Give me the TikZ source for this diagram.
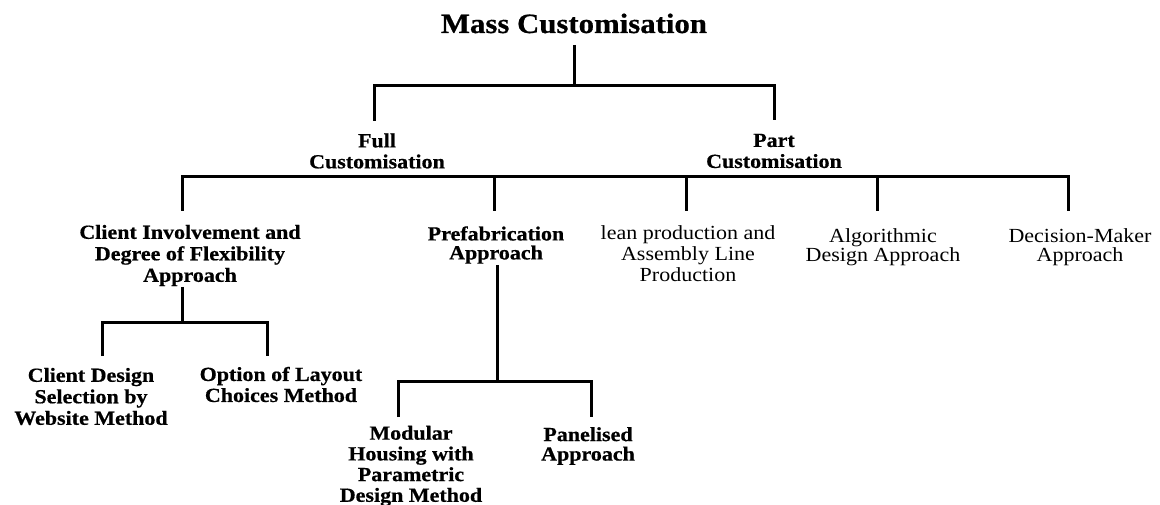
\documentclass[tikz,border=0pt]{standalone}
\usepackage{fontspec}
\setmainfont[FakeStretch=1.1, BoldFeatures={FakeBold=0.6}]{Liberation Serif}
\begin{document}
\begin{tikzpicture}[x=1pt,y=-1pt,
  conn/.style={line width=3pt, line join=miter},
  lbl/.style={align=center, inner sep=0pt, font=\fontsize{20}{21}\selectfont\bfseries},
  reg/.style={align=center, inner sep=0pt, font=\fontsize{20}{21}\selectfont}]
\useasboundingbox (0,0) rectangle (1160,505);
\fill[white] (0,0) rectangle (1160,505);
% nodes
\node[inner sep=0pt, anchor=base, font=\fontsize{28}{30}\selectfont\bfseries] (mc) at (574,33) {Mass Customisation};
\node[lbl] (full) at (377,151) {Full\\Customisation};
\node[lbl] (part) at (774,151) {Part\\Customisation};
\node[lbl, font=\fontsize{20}{21.5}\selectfont\bfseries] (ci) at (190,255.5) {Client Involvement and\\Degree of Flexibility\\Approach};
\node[lbl, font=\fontsize{20}{19}\selectfont\bfseries] (pf) at (496,245) {Prefabrication\\Approach};
\node[reg] (lp) at (688,254) {lean production and\\Assembly Line\\Production};
\node[reg, font=\fontsize{20}{19}\selectfont] (ad) at (883,247.5) {Algorithmic\\Design Approach};
\node[reg, font=\fontsize{20}{19}\selectfont] (dm) at (1080,247.5) {Decision-Maker\\Approach};
\node[lbl, font=\fontsize{20}{21.5}\selectfont\bfseries] (cd) at (91,396.5) {Client Design\\Selection by\\Website Method};
\node[lbl] (ol) at (281,384.5) {Option of Layout\\Choices Method};
\node[lbl, font=\fontsize{20}{20.7}\selectfont\bfseries] (mh) at (411,466) {Modular\\Housing with\\Parametric\\Design Method};
\node[lbl, font=\fontsize{20}{19.5}\selectfont\bfseries] (pa) at (588,446) {Panelised\\Approach};
% junction coordinates
\coordinate (j0) at (574,86);
\coordinate (fullT) at (374,121);
\coordinate (partT) at (774,120);
\coordinate (bar) at (493,177);
\coordinate (ciT) at (182,211);
\coordinate (pfT) at (494,211);
\coordinate (lpT) at (686,211);
\coordinate (adT) at (877,211);
\coordinate (dmT) at (1068,211);
\coordinate (j2) at (182,322);
\coordinate (cdT) at (102,356);
\coordinate (olT) at (267,356);
\coordinate (j3) at (497,381);
\coordinate (mhT) at (398,417);
\coordinate (paT) at (591,417);
% connectors
\draw[conn] (mc.south |- 0,45) -- (j0);
\draw[conn] (fullT) -- (fullT |- j0) -- (partT |- j0) -- (partT);
\draw[conn] (ciT) -- (ciT |- bar) -- (dmT |- bar) -- (dmT);
\draw[conn] (pfT) -- (pfT |- bar);
\draw[conn] (lpT) -- (lpT |- bar);
\draw[conn] (adT) -- (adT |- bar);
\draw[conn] (j2 |- 0,287) -- (j2);
\draw[conn] (cdT) -- (cdT |- j2) -- (olT |- j2) -- (olT);
\draw[conn] (j3 |- 0,265) -- (j3);
\draw[conn] (mhT) -- (mhT |- j3) -- (paT |- j3) -- (paT);
\end{tikzpicture}
\end{document}
